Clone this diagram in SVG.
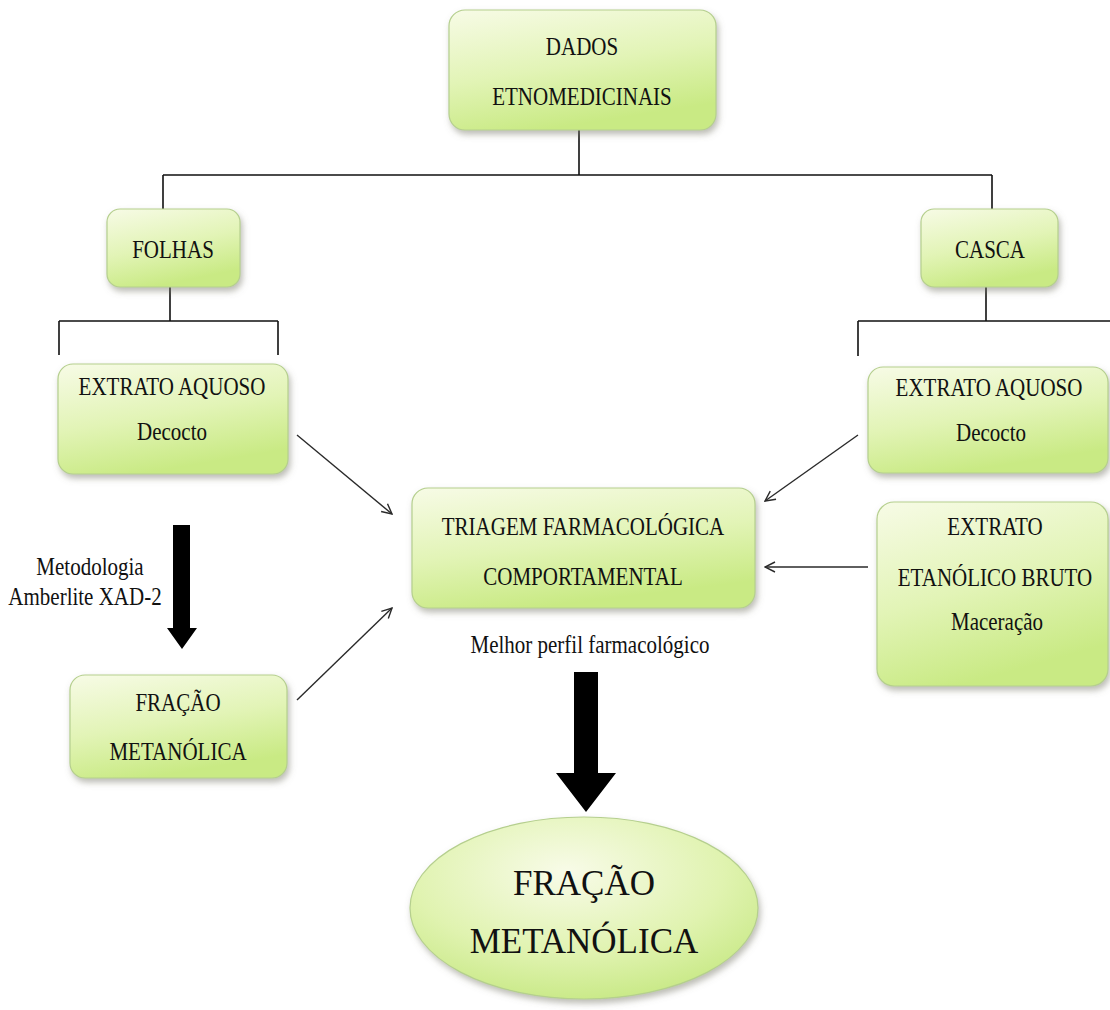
<svg xmlns="http://www.w3.org/2000/svg" width="1110" height="1010" viewBox="0 0 1110 1010">
<defs>
<linearGradient id="g" x1="0" y1="0" x2="0.35" y2="1">
<stop offset="0" stop-color="#f7fbe6"/>
<stop offset="0.55" stop-color="#e2f4b6"/>
<stop offset="1" stop-color="#c9ea84"/>
</linearGradient>
<radialGradient id="ge" cx="0.45" cy="0.3" r="0.75">
<stop offset="0" stop-color="#f8fbe8"/>
<stop offset="0.6" stop-color="#e0f3b0"/>
<stop offset="1" stop-color="#c6e882"/>
</radialGradient>
<filter id="sh" x="-10%" y="-10%" width="125%" height="130%">
<feDropShadow dx="2" dy="4" stdDeviation="3" flood-color="#7a7a6a" flood-opacity="0.5"/>
</filter>
<marker id="open" viewBox="0 0 12 12" refX="11" refY="6" markerWidth="12" markerHeight="12" markerUnits="userSpaceOnUse" orient="auto">
<path d="M1,1 L11,6 L1,11" fill="none" stroke="#2a2a2a" stroke-width="1.4"/>
</marker>
</defs>
<style>
.box{fill:url(#g);stroke:#b5cf8e;stroke-width:1.2;filter:url(#sh)}
.ell{fill:url(#ge);stroke:#b5cf8e;stroke-width:1.2;filter:url(#sh)}
.t{font-family:"Liberation Serif","Times New Roman",serif;font-size:21px;fill:#111;text-anchor:middle}
.big{font-size:35px}
.ln{fill:none;stroke:#111;stroke-width:1.6}
.ar{fill:none;stroke:#2a2a2a;stroke-width:1.4;marker-end:url(#open)}
.blk{fill:#000}
</style>
<rect width="1110" height="1010" fill="#ffffff"/>

<g id="connectors">
<path class="ln" d="M579,130 V175 M163,175 H992 M163,175 V209 M992,175 V209"/>
<path class="ln" d="M170,287 V321 M59,321 H278 M59,321 V355 M278,321 V355"/>
<path class="ln" d="M986,287 V321 M858,321 H1110 M858,321 V356"/>
<line class="ar" x1="297" y1="435" x2="392" y2="514"/>
<line class="ar" x1="297" y1="700" x2="392" y2="608"/>
<line class="ar" x1="858" y1="435" x2="765" y2="501"/>
<line class="ar" x1="868" y1="567" x2="765" y2="567"/>
<polygon class="blk" points="173,525 190,525 190,628 197,628 182,649 167,628 173,628"/>
<polygon class="blk" points="574,672 598,672 598,773 616,773 586,812 556,773 574,773"/>
</g>

<g id="dados">
<rect class="box" x="449" y="10" width="267" height="120" rx="16"/>
<text class="t" x="582" y="55" transform="matrix(1 0 0 1.2 0 -11)">DADOS</text>
<text class="t" x="582" y="105" transform="matrix(1 0 0 1.2 0 -21)">ETNOMEDICINAIS</text>
</g>

<g id="folhas">
<rect class="box" x="107" y="209" width="133" height="78" rx="13"/>
<text class="t" x="173" y="258" transform="matrix(1 0 0 1.2 0 -51.6)">FOLHAS</text>
</g>

<g id="casca">
<rect class="box" x="921" y="209" width="137" height="78" rx="13"/>
<text class="t" x="990" y="258" transform="matrix(1 0 0 1.2 0 -51.6)">CASCA</text>
</g>

<g id="extrato-aquoso-folhas">
<rect class="box" x="58" y="364" width="230" height="110" rx="15"/>
<text class="t" x="172" y="395" transform="matrix(1 0 0 1.2 0 -79)">EXTRATO AQUOSO</text>
<text class="t" x="172" y="440" transform="matrix(1 0 0 1.2 0 -88)">Decocto</text>
</g>

<g id="extrato-aquoso-casca">
<rect class="box" x="868" y="367" width="240" height="106" rx="15"/>
<text class="t" x="989" y="396" transform="matrix(1 0 0 1.2 0 -79.2)">EXTRATO AQUOSO</text>
<text class="t" x="991" y="441" transform="matrix(1 0 0 1.2 0 -88.2)">Decocto</text>
</g>

<g id="extrato-etanolico">
<rect class="box" x="877" y="502" width="231" height="184" rx="17"/>
<text class="t" x="995" y="535" transform="matrix(1 0 0 1.2 0 -107)">EXTRATO</text>
<text class="t" x="995" y="586" transform="matrix(1 0 0 1.2 0 -117.2)">ETANÓLICO BRUTO</text>
<text class="t" x="997" y="630" transform="matrix(1 0 0 1.2 0 -126)">Maceração</text>
</g>

<g id="triagem">
<rect class="box" x="412" y="488" width="343" height="120" rx="16"/>
<text class="t" x="583" y="535" transform="matrix(1 0 0 1.2 0 -107)">TRIAGEM FARMACOLÓGICA</text>
<text class="t" x="583" y="585" transform="matrix(1 0 0 1.2 0 -117)">COMPORTAMENTAL</text>
</g>

<text class="t" x="590" y="653" transform="matrix(1 0 0 1.2 0 -130.6)">Melhor perfil farmacológico</text>
<text class="t" x="90" y="575" transform="matrix(1 0 0 1.2 0 -115)">Metodologia</text>
<text class="t" x="85" y="605" transform="matrix(1 0 0 1.2 0 -121)">Amberlite XAD-2</text>

<g id="fracao-metanolica-folhas">
<rect class="box" x="70" y="675" width="217" height="103" rx="15"/>
<text class="t" x="178" y="711" transform="matrix(1 0 0 1.2 0 -142.2)">FRAÇÃO</text>
<text class="t" x="178" y="760" transform="matrix(1 0 0 1.2 0 -152)">METANÓLICA</text>
</g>

<g id="fracao-metanolica-final">
<ellipse class="ell" cx="584" cy="908" rx="174" ry="91"/>
<text class="t big" x="584" y="895">FRAÇÃO</text>
<text class="t big" x="584" y="953">METANÓLICA</text>
</g>
</svg>
